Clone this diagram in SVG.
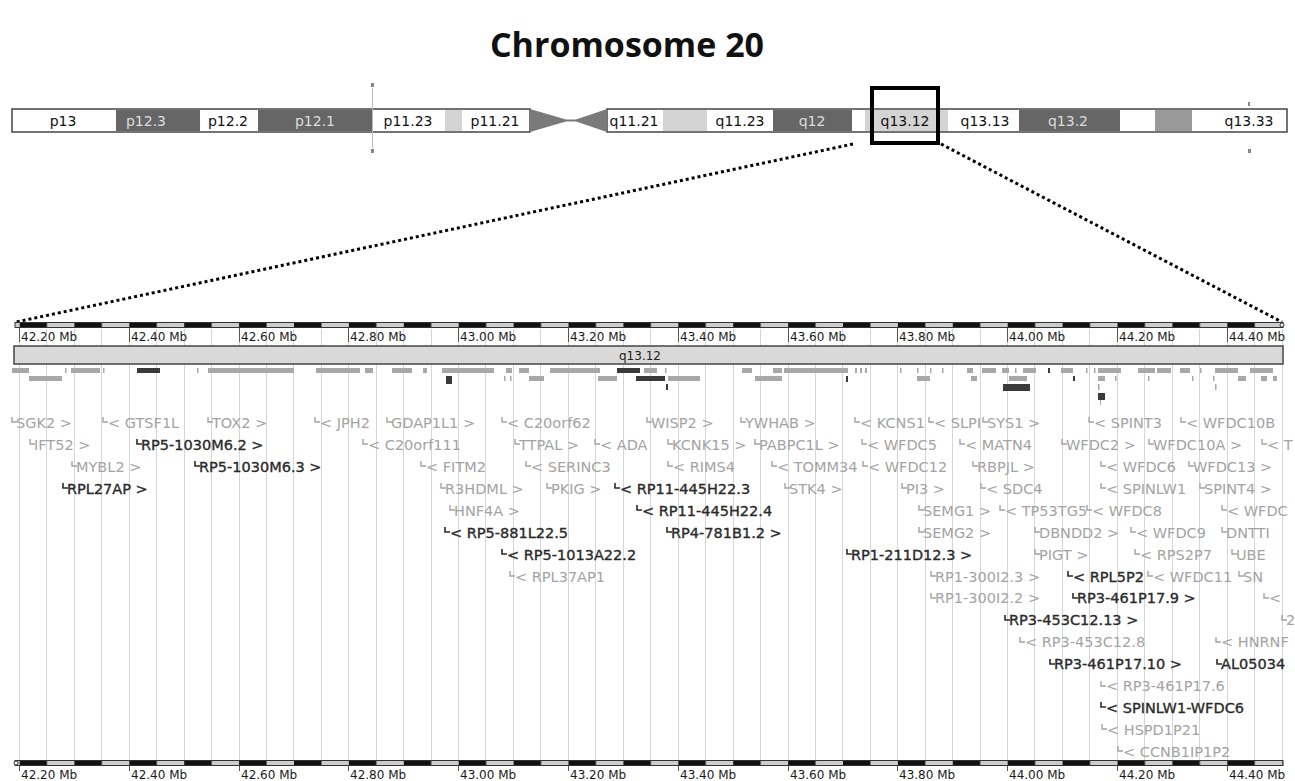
<svg xmlns="http://www.w3.org/2000/svg" width="1295" height="781" viewBox="0 0 1295 781">
<style>
.title{font-family:"Open Sans","DejaVu Sans",sans-serif;font-weight:bold;font-size:34px;fill:#111}
.bl{font-family:"DejaVu Sans",sans-serif;font-size:14px;text-anchor:middle}
.bk{fill:#111}.bw{fill:#ddd}
.ax{font-family:"DejaVu Sans",sans-serif;font-size:12px;fill:#1a1a1a}
.g text{font-family:"DejaVu Sans",sans-serif;font-size:14.5px;fill:#a3a3a3}
.g path{fill:none;stroke:#a3a3a3;stroke-width:1.4}
.d text{font-family:"DejaVu Sans",sans-serif;font-size:14.5px;fill:#2a2a2a;stroke:#2a2a2a;stroke-width:0.35}
.d path{fill:none;stroke:#2a2a2a;stroke-width:1.6}
.tg{fill:#a8a8a8}.td{fill:#3a3a3a}
</style>
<defs>
<pattern id="rul" patternUnits="userSpaceOnUse" x="19.5" y="0" width="54.9" height="10"><rect x="0" y="0" width="27.45" height="10" fill="#111"/></pattern>
</defs>

<text class="title" x="627" y="57" text-anchor="middle">Chromosome 20</text>

<g id="chromosome">
<rect x="12" y="109" width="518" height="23" fill="#fff" stroke="#444" stroke-width="1.5"/>
<rect x="607" y="109" width="680" height="23" fill="#fff" stroke="#444" stroke-width="1.5"/>
<rect x="116" y="110" width="84" height="21" fill="#666"/>
<rect x="258" y="110" width="115" height="21" fill="#666"/>
<rect x="445" y="110" width="17" height="21" fill="#d4d4d4"/>
<rect x="663" y="110" width="44" height="21" fill="#d4d4d4"/>
<rect x="773" y="110" width="79" height="21" fill="#666"/>
<rect x="865" y="110" width="83" height="21" fill="#d4d4d4"/>
<rect x="1019" y="110" width="101" height="21" fill="#666"/>
<rect x="1155" y="110" width="37" height="21" fill="#999"/>
<path d="M530 109 L566 119.5 L566 121.5 L530 132 Z" fill="#7a7a7a"/>
<path d="M607 109 L576 119.5 L576 121.5 L607 132 Z" fill="#7a7a7a"/>
<line x1="566" y1="120.5" x2="576" y2="120.5" stroke="#7a7a7a" stroke-width="2"/>
<line x1="372.5" y1="88" x2="372.5" y2="148" stroke="#bbb" stroke-width="1"/>
<rect x="371" y="83" width="3" height="4" fill="#888"/>
<rect x="371" y="149" width="3" height="4" fill="#888"/>
<rect x="1248" y="102" width="2" height="4" fill="#888"/>
<rect x="1248" y="149" width="3" height="4" fill="#888"/>
<text class="bl bk" x="63" y="125.5">p13</text>
<text class="bl bw" x="146" y="125.5">p12.3</text>
<text class="bl bk" x="228" y="125.5">p12.2</text>
<text class="bl bw" x="315" y="125.5">p12.1</text>
<text class="bl bk" x="408" y="125.5">p11.23</text>
<text class="bl bk" x="495" y="125.5">p11.21</text>
<text class="bl bk" x="634" y="125.5">q11.21</text>
<text class="bl bk" x="740" y="125.5">q11.23</text>
<text class="bl bw" x="812" y="125.5">q12</text>
<text class="bl bk" x="905" y="125.5">q13.12</text>
<text class="bl bk" x="985" y="125.5">q13.13</text>
<text class="bl bw" x="1068" y="125.5">q13.2</text>
<text class="bl bk" x="1249" y="125.5">q13.33</text>
</g>

<g id="highlight">
<rect x="872" y="88" width="66" height="55" fill="none" stroke="#000" stroke-width="4"/>
</g>

<g id="connectors" fill="none" stroke="#000" stroke-width="3" stroke-dasharray="3 3">
<line x1="853" y1="144" x2="16" y2="322"/>
<line x1="941" y1="144" x2="1282" y2="322"/>
</g>

<g id="grid" stroke="#d6d6d6" stroke-width="1">
<path d="M19.5 329V760M46.5 329V760M74.5 329V760M101.5 329V760M129.5 329V760M156.5 329V760M184.5 329V760M211.5 329V760M239.5 329V760M266.5 329V760M293.5 329V760M321.5 329V760M348.5 329V760M376.5 329V760M403.5 329V760M431.5 329V760M458.5 329V760M485.5 329V760M513.5 329V760M540.5 329V760M568.5 329V760M595.5 329V760M623.5 329V760M650.5 329V760M678.5 329V760M705.5 329V760M733.5 329V760M760.5 329V760M788.5 329V760M815.5 329V760M842.5 329V760M870.5 329V760M897.5 329V760M925.5 329V760M952.5 329V760M980.5 329V760M1007.5 329V760M1034.5 329V760M1062.5 329V760M1089.5 329V760M1117.5 329V760M1144.5 329V760M1172.5 329V760M1199.5 329V760M1227.5 329V760M1254.5 329V760M1282.5 329V760"/>
</g>

<g id="ruler-top">
<rect x="15" y="322.5" width="1268" height="5" fill="#ccc" stroke="#333" stroke-width="1"/>
<rect x="19.5" y="323" width="1263" height="4" fill="url(#rul)"/>
<circle cx="1282" cy="325" r="2" fill="#fff" stroke="#333"/>
<path d="M19.5 328V342M129.5 328V342M239.5 328V342M348.5 328V342M458.5 328V342M568.5 328V342M678.5 328V342M788.5 328V342M897.5 328V342M1007.5 328V342M1117.5 328V342M1227.5 328V342" stroke="#555" stroke-width="1"/>
<text class="ax" x="21" y="341">42.20 Mb</text>
<text class="ax" x="131" y="341">42.40 Mb</text>
<text class="ax" x="241" y="341">42.60 Mb</text>
<text class="ax" x="350" y="341">42.80 Mb</text>
<text class="ax" x="460" y="341">43.00 Mb</text>
<text class="ax" x="570" y="341">43.20 Mb</text>
<text class="ax" x="680" y="341">43.40 Mb</text>
<text class="ax" x="790" y="341">43.60 Mb</text>
<text class="ax" x="899" y="341">43.80 Mb</text>
<text class="ax" x="1009" y="341">44.00 Mb</text>
<text class="ax" x="1119" y="341">44.20 Mb</text>
<text class="ax" x="1229" y="341">44.40 Mb</text>
</g>

<g id="band-q13.12">
<rect x="14" y="346" width="1269" height="18" fill="#d9d9d9" stroke="#444" stroke-width="1.5"/>
<text x="640" y="359.5" font-family="DejaVu Sans, sans-serif" font-size="12" fill="#222" text-anchor="middle">q13.12</text>
</g>

<g id="features">
<path class="tg" d="M12 368h17v5h-17zM65 368h1.5v5h-1.5zM71 368h29v5h-29zM103 368h1.5v5h-1.5zM197 368h1.5v5h-1.5zM208 368h86v5h-86zM316 368h44v5h-44zM365 368h8v5h-8zM392 368h20v5h-20zM423 368h4v5h-4zM442 368h52v5h-52zM506 368h6v5h-6zM519 368h10v5h-10zM550 368h50v5h-50zM644 368h13v5h-13zM665 368h1.5v5h-1.5zM742 368h10v5h-10zM773 368h9v5h-9zM784 368h64v5h-64zM855 368h2v5h-2zM860 368h2v5h-2zM865 368h2v5h-2zM900 368h1.5v5h-1.5zM917 368h1.5v5h-1.5zM930 368h1.5v5h-1.5zM942 368h1.5v5h-1.5zM967 368h6v5h-6zM982 368h14v5h-14zM1002 368h7v5h-7zM1015 368h1.5v5h-1.5zM1023 368h13v5h-13zM1061 368h12v5h-12zM1086 368h1.5v5h-1.5zM1094 368h1.5v5h-1.5zM1098 368h23v5h-23zM1138 368h17v5h-17zM1157 368h14v5h-14zM1180 368h10v5h-10zM1200 368h1.5v5h-1.5zM1215 368h23v5h-23zM1250 368h23v5h-23z"/>
<path class="td" d="M137 368h23v5h-23zM617 368h23v5h-23zM1048 368h2v5h-2z"/>
<path class="tg" d="M29 376h33v5h-33zM504 376h1.5v5h-1.5zM510 376h1.5v5h-1.5zM529 376h15v5h-15zM598 376h19v5h-19zM668 376h32v5h-32zM755 376h27v5h-27zM917 376h13v5h-13zM971 376h6v5h-6zM1009 376h18v5h-18zM1098 376h7v5h-7zM1115 376h1.5v5h-1.5zM1148 376h1.5v5h-1.5zM1192 376h1.5v5h-1.5zM1213 376h1.5v5h-1.5zM1238 376h8v5h-8zM1261 376h6v5h-6zM1273 376h4v5h-4z"/>
<path class="td" d="M446 376h6v8h-6zM636 376h29v5h-29zM846 376h2v6h-2zM1073 376h2v5h-2zM666 384h2v6h-2zM1003 384h27v7h-27zM1098 393h7v7h-7z"/>
<path class="tg" d="M1098 384h1.5v6h-1.5zM1215 384h1.5v6h-1.5zM1100 400h1v5h-1z"/>
</g>

<g id="gene-labels">
<g id="n-SGK2" class="g"><path d="M12 417v5h5"/><text x="16" y="428">SGK2 &gt;</text></g>
<g id="n-GTSF1L" class="g"><path d="M103 417v5h5"/><text x="108" y="428">&lt; GTSF1L</text></g>
<g id="n-TOX2" class="g"><path d="M208 417v5h5"/><text x="212" y="428">TOX2 &gt;</text></g>
<g id="n-JPH2" class="g"><path d="M315 417v5h5"/><text x="320" y="428">&lt; JPH2</text></g>
<g id="n-GDAP1L1" class="g"><path d="M387 417v5h5"/><text x="391" y="428">GDAP1L1 &gt;</text></g>
<g id="n-C20orf62" class="g"><path d="M502 417v5h5"/><text x="507" y="428">&lt; C20orf62</text></g>
<g id="n-WISP2" class="g"><path d="M647 417v5h5"/><text x="651" y="428">WISP2 &gt;</text></g>
<g id="n-YWHAB" class="g"><path d="M741 417v5h5"/><text x="745" y="428">YWHAB &gt;</text></g>
<g id="n-KCNS1" class="g"><path d="M855 417v5h5"/><text x="860" y="428">&lt; KCNS1</text></g>
<g id="n-SLPI" class="g"><path d="M929 417v5h5"/><text x="934" y="428">&lt; SLPI</text></g>
<g id="n-SYS1" class="g"><path d="M983 417v5h5"/><text x="987" y="428">SYS1 &gt;</text></g>
<g id="n-SPINT3" class="g"><path d="M1089 417v5h5"/><text x="1094" y="428">&lt; SPINT3</text></g>
<g id="n-WFDC10B" class="g"><path d="M1181 417v5h5"/><text x="1186" y="428">&lt; WFDC10B</text></g>

<g id="n-IFT52" class="g"><path d="M30 439v5h5"/><text x="34" y="450">IFT52 &gt;</text></g>
<g id="n-RP5-1030M6.2" class="d"><path d="M137 439v5h5"/><text x="141" y="450">RP5-1030M6.2 &gt;</text></g>
<g id="n-C20orf111" class="g"><path d="M363 439v5h5"/><text x="368" y="450">&lt; C20orf111</text></g>
<g id="n-TTPAL" class="g"><path d="M515 439v5h5"/><text x="519" y="450">TTPAL &gt;</text></g>
<g id="n-ADA" class="g"><path d="M595 439v5h5"/><text x="600" y="450">&lt; ADA</text></g>
<g id="n-KCNK15" class="g"><path d="M668 439v5h5"/><text x="672" y="450">KCNK15 &gt;</text></g>
<g id="n-PABPC1L" class="g"><path d="M755 439v5h5"/><text x="759" y="450">PABPC1L &gt;</text></g>
<g id="n-WFDC5" class="g"><path d="M862 439v5h5"/><text x="867" y="450">&lt; WFDC5</text></g>
<g id="n-MATN4" class="g"><path d="M960 439v5h5"/><text x="965" y="450">&lt; MATN4</text></g>
<g id="n-WFDC2" class="g"><path d="M1062 439v5h5"/><text x="1066" y="450">WFDC2 &gt;</text></g>
<g id="n-WFDC10A" class="g"><path d="M1149 439v5h5"/><text x="1153" y="450">WFDC10A &gt;</text></g>
<g id="n-T" class="g"><path d="M1262 439v5h5"/><text x="1267" y="450">&lt; T</text></g>

<g id="n-MYBL2" class="g"><path d="M72 461v5h5"/><text x="76" y="472">MYBL2 &gt;</text></g>
<g id="n-RP5-1030M6.3" class="d"><path d="M195 461v5h5"/><text x="199" y="472">RP5-1030M6.3 &gt;</text></g>
<g id="n-FITM2" class="g"><path d="M421 461v5h5"/><text x="426" y="472">&lt; FITM2</text></g>
<g id="n-SERINC3" class="g"><path d="M526 461v5h5"/><text x="531" y="472">&lt; SERINC3</text></g>
<g id="n-RIMS4" class="g"><path d="M668 461v5h5"/><text x="673" y="472">&lt; RIMS4</text></g>
<g id="n-TOMM34" class="g"><path d="M772 461v5h5"/><text x="777" y="472">&lt; TOMM34</text></g>
<g id="n-WFDC12" class="g"><path d="M863 461v5h5"/><text x="868" y="472">&lt; WFDC12</text></g>
<g id="n-RBPJL" class="g"><path d="M973 461v5h5"/><text x="977" y="472">RBPJL &gt;</text></g>
<g id="n-WFDC6" class="g"><path d="M1101 461v5h5"/><text x="1106" y="472">&lt; WFDC6</text></g>
<g id="n-WFDC13" class="g"><path d="M1189 461v5h5"/><text x="1193" y="472">WFDC13 &gt;</text></g>

<g id="n-RPL27AP" class="d"><path d="M63 483v5h5"/><text x="67" y="494">RPL27AP &gt;</text></g>
<g id="n-R3HDML" class="g"><path d="M441 483v5h5"/><text x="445" y="494">R3HDML &gt;</text></g>
<g id="n-PKIG" class="g"><path d="M547 483v5h5"/><text x="551" y="494">PKIG &gt;</text></g>
<g id="n-RP11-445H22.3" class="d"><path d="M615 483v5h5"/><text x="620" y="494">&lt; RP11-445H22.3</text></g>
<g id="n-STK4" class="g"><path d="M785 483v5h5"/><text x="789" y="494">STK4 &gt;</text></g>
<g id="n-PI3" class="g"><path d="M902 483v5h5"/><text x="906" y="494">PI3 &gt;</text></g>
<g id="n-SDC4" class="g"><path d="M981 483v5h5"/><text x="986" y="494">&lt; SDC4</text></g>
<g id="n-SPINLW1" class="g"><path d="M1101 483v5h5"/><text x="1106" y="494">&lt; SPINLW1</text></g>
<g id="n-SPINT4" class="g"><path d="M1200 483v5h5"/><text x="1204" y="494">SPINT4 &gt;</text></g>

<g id="n-HNF4A" class="g"><path d="M450 505v5h5"/><text x="454" y="516">HNF4A &gt;</text></g>
<g id="n-RP11-445H22.4" class="d"><path d="M637 505v5h5"/><text x="642" y="516">&lt; RP11-445H22.4</text></g>
<g id="n-SEMG1" class="g"><path d="M919 505v5h5"/><text x="923" y="516">SEMG1 &gt;</text></g>
<g id="n-TP53TG5" class="g"><path d="M1000 505v5h5"/><text x="1005" y="516">&lt; TP53TG5</text></g>
<g id="n-WFDC8" class="g"><path d="M1087 505v5h5"/><text x="1092" y="516">&lt; WFDC8</text></g>
<g id="n-WFDC-cut" class="g"><path d="M1222 505v5h5"/><text x="1227" y="516">&lt; WFDC</text></g>

<g id="n-RP5-881L22.5" class="d"><path d="M445 527v5h5"/><text x="450" y="538">&lt; RP5-881L22.5</text></g>
<g id="n-RP4-781B1.2" class="d"><path d="M667 527v5h5"/><text x="671" y="538">RP4-781B1.2 &gt;</text></g>
<g id="n-SEMG2" class="g"><path d="M919 527v5h5"/><text x="923" y="538">SEMG2 &gt;</text></g>
<g id="n-DBNDD2" class="g"><path d="M1035 527v5h5"/><text x="1039" y="538">DBNDD2 &gt;</text></g>
<g id="n-WFDC9" class="g"><path d="M1131 527v5h5"/><text x="1136" y="538">&lt; WFDC9</text></g>
<g id="n-DNTTI" class="g"><path d="M1222 527v5h5"/><text x="1226" y="538">DNTTI</text></g>

<g id="n-RP5-1013A22.2" class="d"><path d="M502 549v5h5"/><text x="507" y="560">&lt; RP5-1013A22.2</text></g>
<g id="n-RP1-211D12.3" class="d"><path d="M847 549v5h5"/><text x="851" y="560">RP1-211D12.3 &gt;</text></g>
<g id="n-PIGT" class="g"><path d="M1035 549v5h5"/><text x="1039" y="560">PIGT &gt;</text></g>
<g id="n-RPS2P7" class="g"><path d="M1135 549v5h5"/><text x="1140" y="560">&lt; RPS2P7</text></g>
<g id="n-UBE" class="g"><path d="M1232 549v5h5"/><text x="1236" y="560">UBE</text></g>

<g id="n-RPL37AP1" class="g"><path d="M510 571v5h5"/><text x="515" y="582">&lt; RPL37AP1</text></g>
<g id="n-RP1-300I2.3" class="g"><path d="M931 571v5h5"/><text x="935" y="582">RP1-300I2.3 &gt;</text></g>
<g id="n-RPL5P2" class="d"><path d="M1068 571v5h5"/><text x="1073" y="582">&lt; RPL5P2</text></g>
<g id="n-WFDC11" class="g"><path d="M1148 571v5h5"/><text x="1153" y="582">&lt; WFDC11</text></g>
<g id="n-SN" class="g"><path d="M1239 571v5h5"/><text x="1243" y="582">SN</text></g>

<g id="n-RP1-300I2.2" class="g"><path d="M931 593v5h5"/><text x="935" y="603">RP1-300I2.2 &gt;</text></g>
<g id="n-RP3-461P17.9" class="d"><path d="M1073 593v5h5"/><text x="1077" y="603">RP3-461P17.9 &gt;</text></g>
<g id="n-cut8" class="g"><path d="M1264 593v5h5"/><text x="1269" y="603">&lt;</text></g>

<g id="n-RP3-453C12.13" class="d"><path d="M1005 615v5h5"/><text x="1009" y="625">RP3-453C12.13 &gt;</text></g>
<g id="n-cut9" class="g"><path d="M1282 615v5h5"/><text x="1286" y="625">2</text></g>

<g id="n-RP3-453C12.8" class="g"><path d="M1020 637v5h5"/><text x="1025" y="647">&lt; RP3-453C12.8</text></g>
<g id="n-HNRNF" class="g"><path d="M1216 637v5h5"/><text x="1221" y="647">&lt; HNRNF</text></g>

<g id="n-RP3-461P17.10" class="d"><path d="M1050 659v5h5"/><text x="1054" y="669">RP3-461P17.10 &gt;</text></g>
<g id="n-AL05034" class="d"><path d="M1217 659v5h5"/><text x="1221" y="669">AL05034</text></g>

<g id="n-RP3-461P17.6" class="g"><path d="M1101 681v5h5"/><text x="1106" y="691">&lt; RP3-461P17.6</text></g>
<g id="n-SPINLW1-WFDC6" class="d"><path d="M1101 702v5h5"/><text x="1106" y="713">&lt; SPINLW1-WFDC6</text></g>
<g id="n-HSPD1P21" class="g"><path d="M1102 724v5h5"/><text x="1107" y="734.5">&lt; HSPD1P21</text></g>
<g id="n-CCNB1IP1P2" class="g"><path d="M1118 746v5h5"/><text x="1123" y="756.5">&lt; CCNB1IP1P2</text></g>
</g>

<g id="ruler-bottom">
<rect x="15" y="760.5" width="1268" height="5" fill="#ccc" stroke="#333" stroke-width="1"/>
<rect x="19.5" y="761" width="1263" height="4" fill="url(#rul)"/>
<circle cx="16" cy="763" r="2" fill="#fff" stroke="#333"/>
<path d="M19.5 766V771M129.5 766V771M239.5 766V771M348.5 766V771M458.5 766V771M568.5 766V771M678.5 766V771M788.5 766V771M897.5 766V771M1007.5 766V771M1117.5 766V771M1227.5 766V771" stroke="#555" stroke-width="1"/>
<text class="ax" x="21" y="779">42.20 Mb</text>
<text class="ax" x="131" y="779">42.40 Mb</text>
<text class="ax" x="241" y="779">42.60 Mb</text>
<text class="ax" x="350" y="779">42.80 Mb</text>
<text class="ax" x="460" y="779">43.00 Mb</text>
<text class="ax" x="570" y="779">43.20 Mb</text>
<text class="ax" x="680" y="779">43.40 Mb</text>
<text class="ax" x="790" y="779">43.60 Mb</text>
<text class="ax" x="899" y="779">43.80 Mb</text>
<text class="ax" x="1009" y="779">44.00 Mb</text>
<text class="ax" x="1119" y="779">44.20 Mb</text>
<text class="ax" x="1229" y="779">44.40 Mb</text>
</g>
</svg>
